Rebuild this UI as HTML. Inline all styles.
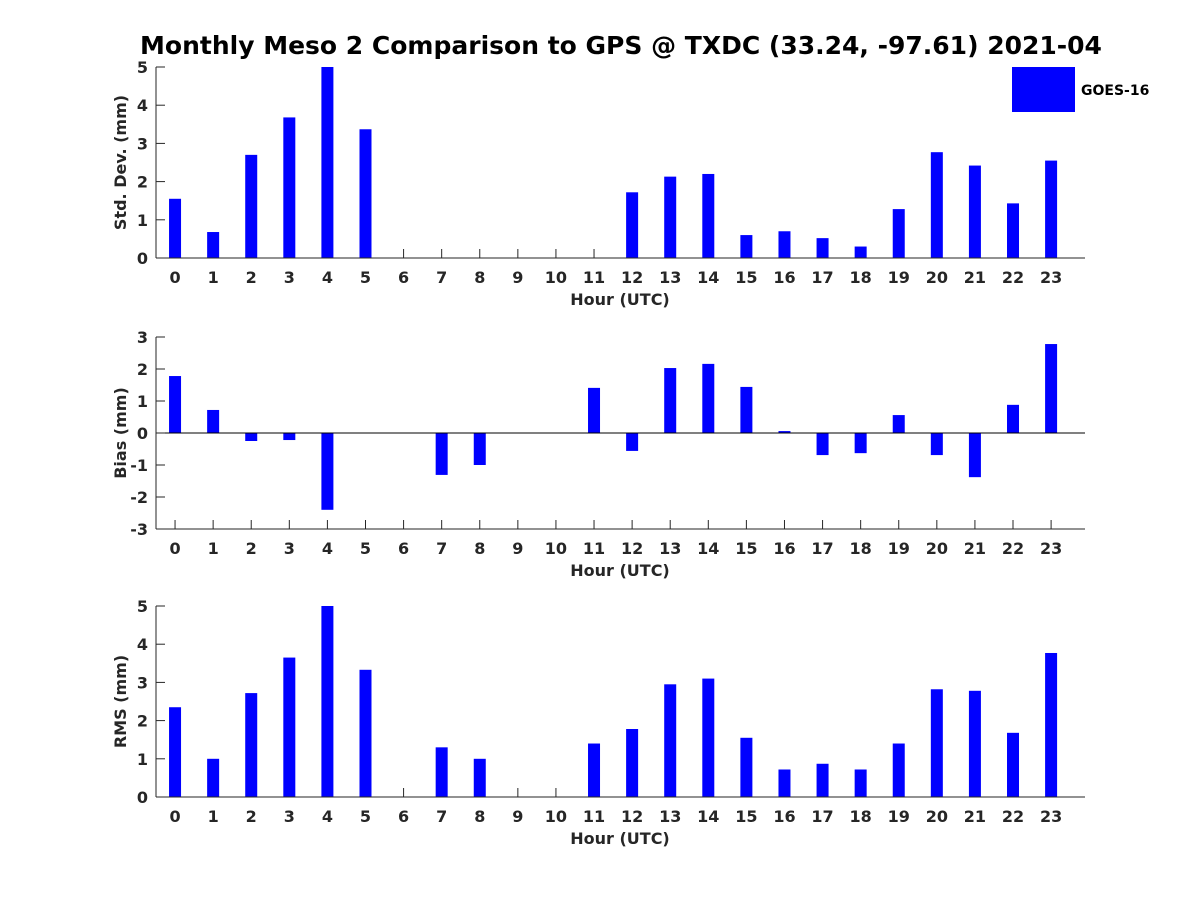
<!DOCTYPE html>
<html><head><meta charset="utf-8"><style>
body{margin:0;background:#fff;}
svg{display:block;font-family:"DejaVu Sans","Liberation Sans",sans-serif;font-weight:bold;}
</style></head><body>
<svg id="c" width="1200" height="900">
<text x="621" y="54" text-anchor="middle" font-size="25" fill="#000">Monthly Meso 2 Comparison to GPS @ TXDC (33.24, -97.61) 2021-04</text>
<g>
<rect x="1012" y="67" width="63" height="45" fill="#0000ff"/>
<text x="1081" y="95" font-size="14" fill="#000">GOES-16</text>
</g>
</svg>
<script>
const hours=[0,1,2,3,4,5,6,7,8,9,10,11,12,13,14,15,16,17,18,19,20,21,22,23];
const stdVals=[1.55,0.68,2.7,3.68,5.0,3.37,0,0,0,0,0,0,1.72,2.13,2.2,0.6,0.7,0.52,0.3,1.28,2.77,2.42,1.43,2.55];
const biasVals=[1.78,0.72,-0.25,-0.22,-2.4,0,0,-1.31,-1.0,0,0,1.41,-0.56,2.03,2.16,1.44,0.06,-0.69,-0.63,0.56,-0.69,-1.38,0.88,2.78];
const rmsVals=[2.35,1.0,2.72,3.65,5.0,3.33,0,1.3,1.0,0,0,1.4,1.78,2.95,3.1,1.55,0.72,0.87,0.72,1.4,2.82,2.78,1.68,3.77];
const stdTicks=[0,1,2,3,4,5];
const biasTicks=[-3,-2,-1,0,1,2,3];
const rmsTicks=[0,1,2,3,4,5];
const NS='http://www.w3.org/2000/svg';
const svg=document.getElementById('c');
function mk(tag,attrs,parent,txt){const e=document.createElementNS(NS,tag);for(const k in attrs)e.setAttribute(k,attrs[k]);if(txt!==undefined)e.textContent=txt;parent.appendChild(e);return e;}
const X0=156,X1=1085,xmin=-0.5,xmax=23.89;
const xs=v=>X0+(v-xmin)/(xmax-xmin)*(X1-X0);
function panel(name,top,bot,ymin,ymax,vals,ticks,ylabel){
  const g=mk('g',{},svg);
  
  
  const ys=v=>bot-(v-ymin)/(ymax-ymin)*(bot-top);
  const base=ys(Math.max(ymin,Math.min(0,ymax)));
  hours.forEach(h=>{
    mk('line',{x1:xs(h),x2:xs(h),y1:bot,y2:bot-9,stroke:'#262626'},g);
    const t=mk('text',{x:xs(h),y:bot+25,'text-anchor':'middle','font-size':16,fill:'#262626'},g,String(h));
    
    
  });
  vals.forEach((v,i)=>{
    const y=ys(v);
    const r=mk('rect',{x:xs(hours[i])-6,y:Math.min(y,base),width:12,height:Math.abs(base-y),fill:'#0000ff'},g);
    
    
  });
  const ax=mk('line',{x1:X0,x2:X1,y1:bot,y2:bot,stroke:'#262626','stroke-width':1},g);
  
  
  const ay=mk('line',{x1:X0,x2:X0,y1:top,y2:bot,stroke:'#262626','stroke-width':1},g);
  
  
  if(ymin<0&&ymax>0){
    const zl=mk('line',{x1:X0,x2:X1,y1:base,y2:base,stroke:'#000','stroke-width':1},g);
    
    
  }
  ticks.forEach(v=>{
    mk('line',{x1:X0,x2:X0+9,y1:ys(v),y2:ys(v),stroke:'#262626'},g);
    const t=mk('text',{x:X0-8,y:ys(v)+6,'text-anchor':'end','font-size':16,fill:'#262626'},g,String(v));
    
    
  });
  const xl=mk('text',{x:620,y:bot+47,'text-anchor':'middle','font-size':16,fill:'#262626'},g,'Hour (UTC)');
  
  
  const cy=(top+bot)/2;
  const yl=mk('text',{x:126,y:cy,'text-anchor':'middle','font-size':16,fill:'#262626',transform:'rotate(-90 126 '+cy+')'},g,ylabel);
  
  
}
panel('std-dev',67,258,0,5,stdVals,stdTicks,'Std. Dev. (mm)');
panel('bias',337,529,-3,3,biasVals,biasTicks,'Bias (mm)');
panel('rms',606,797,0,5,rmsVals,rmsTicks,'RMS (mm)');
</script>
</body></html>
